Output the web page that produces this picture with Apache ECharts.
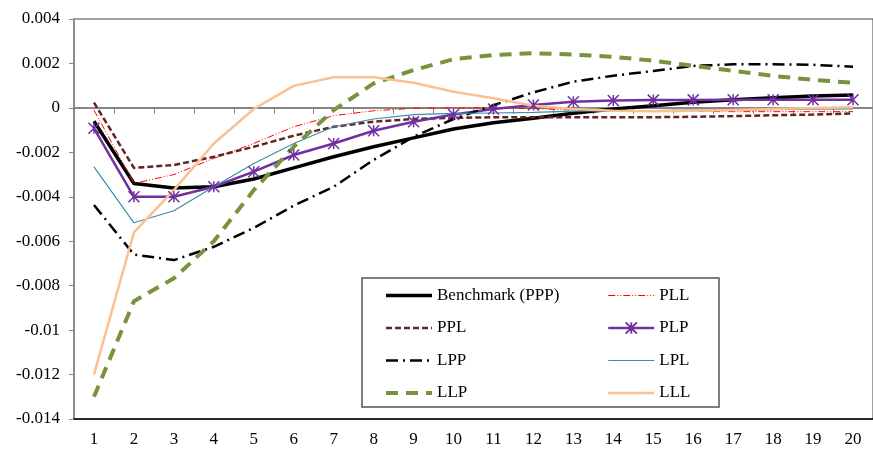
<!DOCTYPE html>
<html>
<head>
<meta charset="utf-8">
<script src="https://cdn.jsdelivr.net/npm/echarts@6/dist/echarts.min.js"></script>
<style>
    html, body { margin: 0; padding: 0; background: #fff; }
    #chart { width: 873px; height: 449px; }
</style>
</head>
<body>
<div id="chart"></div>
<script>
// 期数
const categories = ['1', '2', '3', '4', '5', '6', '7', '8', '9', '10',
    '11', '12', '13', '14', '15', '16', '17', '18', '19', '20'];

// 各情景的脉冲响应
const benchmark = [-0.0006, -0.0034, -0.0036, -0.00355, -0.0032, -0.0027, -0.0022, -0.00175, -0.00135, -0.00095,
    -0.00067, -0.00047, -0.00024, -0.00005, 0.0001, 0.00025, 0.00037, 0.00046, 0.00053, 0.00058];
const pll = [-0.0001, -0.0034, -0.003, -0.00227, -0.0016, -0.00085, -0.00035, -0.00013, -0.00002, 0,
    0, -0.00003, -0.0001, -0.00013, -0.00015, -0.00016, -0.00017, -0.00017, -0.00017, -0.00017];
const ppl = [0.00024, -0.0027, -0.00257, -0.0022, -0.00175, -0.00125, -0.00085, -0.00062, -0.0005, -0.00045,
    -0.00042, -0.00042, -0.00042, -0.00042, -0.00042, -0.0004, -0.00037, -0.00033, -0.0003, -0.00025];
const plp = [-0.00092, -0.004, -0.004, -0.00355, -0.00287, -0.00212, -0.0016, -0.00103, -0.00062, -0.0003,
    -0.00005, 0.00013, 0.00028, 0.00033, 0.00035, 0.00036, 0.00037, 0.00037, 0.00037, 0.00037];
const lpp = [-0.00437, -0.0066, -0.00685, -0.00625, -0.0054, -0.0044, -0.00355, -0.00234, -0.0013, -0.0005,
    0.00012, 0.0007, 0.00118, 0.00145, 0.00166, 0.00189, 0.00196, 0.00196, 0.00194, 0.00185];
const lpl = [-0.00265, -0.00517, -0.00463, -0.00355, -0.0025, -0.0016, -0.00085, -0.0005, -0.0003, -0.00025,
    -0.00023, -0.0002, -0.00015, -0.00012, -0.00012, -0.0001, -0.0001, -0.00008, -0.00006, -0.00005];
const llp = [-0.013, -0.0087, -0.00767, -0.006, -0.0037, -0.00175, -0.0001, 0.0011, 0.0017, 0.00219,
    0.00238, 0.00246, 0.0024, 0.0023, 0.00212, 0.0019, 0.00167, 0.00144, 0.00126, 0.00113];
const lll = [-0.012, -0.0056, -0.0037, -0.0016, -0.00005, 0.00099, 0.00138, 0.00138, 0.00113, 0.00073,
    0.00043, 0.0001, -0.00005, -0.00013, -0.00015, -0.00013, -0.0001, -0.00005, 0, 0.00003];

const font = 'Liberation Serif';
const star = 'path://M0,0L10,10M10,0L0,10M5,0L5,10';

// 线型：颜色、线宽、虚线样式
const styles = {
    'Benchmark (PPP)': ['#000', 3.5, 'solid'],
    'PLL': ['#ff0000', 1, [7, 2, 1, 2, 1, 2]],
    'PPL': ['#632523', 2.5, [6, 3]],
    'PLP': ['#7030a0', 2.5, 'solid'],
    'LPP': ['#000', 2.5, [12, 5, 2, 5]],
    'LPL': ['#3a8fa8', 1.2, 'solid'],
    'LLP': ['#77933c', 4, [12, 8]],
    'LLL': ['#fac090', 2.5, 'solid']
};

function line(name, data, extra) {
    const s = styles[name];
    return Object.assign({
        name: name,
        type: 'line',
        data: data,
        symbol: 'none',
        animation: false,
        color: s[0],
        lineStyle: { color: s[0], width: s[1], type: s[2] }
    }, extra || {});
}

// 图例只画线，PLP 保留星号
function legendItem(name) {
    const s = styles[name];
    return {
        name: name,
        itemStyle: { opacity: name === 'PLP' ? 1 : 0 },
        lineStyle: { color: s[0], width: s[1], type: s[2] }
    };
}

const legendBase = {
    orient: 'vertical',
    top: 287,
    padding: 0,
    itemWidth: 46,
    itemHeight: 14,
    itemGap: 15.5,
    textStyle: { fontFamily: font, fontSize: 17, color: '#000' }
};

const chart = echarts.init(document.getElementById('chart'));

const option = {
    animation: false,
    textStyle: { fontFamily: font, color: '#000' },
    grid: {
        left: 74,
        top: 19,
        width: 810,
        height: 400,
        show: true,
        borderColor: '#404040',
        borderWidth: 1
    },
    graphic: [{
        type: 'rect',
        z: 0,
        shape: { x: 362, y: 278, width: 357, height: 129 },
        style: { fill: '#fff', stroke: '#555545', lineWidth: 1.5 }
    }],
    legend: [
        Object.assign({ left: 384, data: ['Benchmark (PPP)', 'PPL', 'LPP', 'LLP'].map(legendItem) }, legendBase),
        Object.assign({ left: 607, data: ['PLL', 'PLP', 'LPL', 'LLL'].map(legendItem) }, legendBase)
    ],
    xAxis: [
        {
            // 零线上的轴
            type: 'category',
            data: categories,
            position: 'bottom',
            axisLine: { onZero: true, lineStyle: { color: '#868686', width: 2 } },
            axisTick: { show: true, length: 6, lineStyle: { color: '#868686', width: 1 } },
            axisLabel: { show: false },
            splitLine: { show: false }
        },
        {
            // 底部标签
            type: 'category',
            data: categories,
            position: 'bottom',
            axisLine: { onZero: false, lineStyle: { color: '#000', width: 1.5 } },
            axisTick: { show: false },
            axisLabel: { margin: 12, fontFamily: font, fontSize: 17, color: '#000' },
            splitLine: { show: false }
        }
    ],
    yAxis: {
        type: 'value',
        min: -0.014,
        max: 0.004,
        interval: 0.002,
        axisLine: { show: true, lineStyle: { color: '#868686', width: 1.5 } },
        axisTick: { show: true, length: 5, lineStyle: { color: '#868686' } },
        axisLabel: {
            margin: 14,
            fontFamily: font,
            fontSize: 17,
            color: '#000',
            formatter: function (v) {
                return String(Number(v.toFixed(3)));
            }
        },
        splitLine: { show: false }
    },
    series: [
        line('Benchmark (PPP)', benchmark),
        line('PLL', pll),
        line('PPL', ppl),
        line('PLP', plp, {
            symbol: star,
            symbolSize: 11,
            showSymbol: true,
            itemStyle: { color: '#7030a0', borderColor: '#7030a0', borderWidth: 1.5 }
        }),
        line('LPP', lpp),
        line('LPL', lpl),
        line('LLP', llp),
        line('LLL', lll)
    ]
};

chart.setOption(option);
</script>
</body>
</html>
